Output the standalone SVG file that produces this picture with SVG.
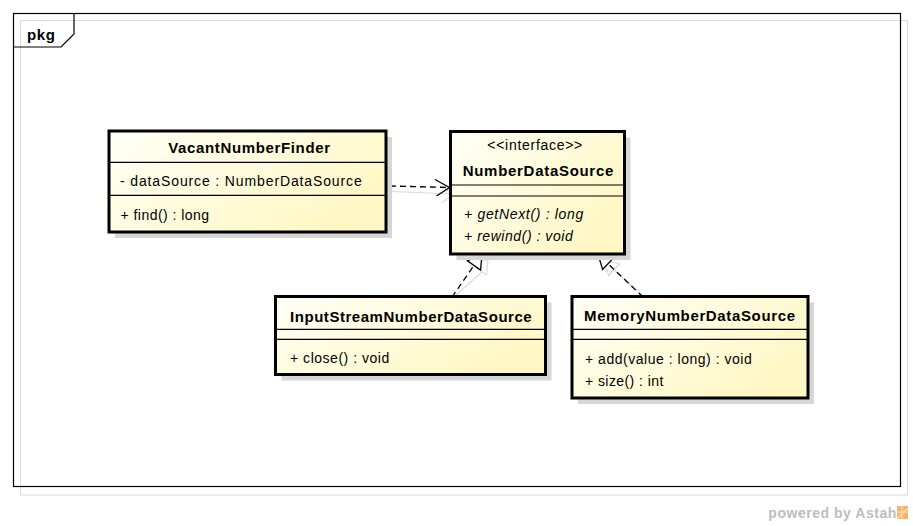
<svg xmlns="http://www.w3.org/2000/svg" width="913" height="526" viewBox="0 0 913 526">
<defs>
<linearGradient id="fillGrad" x1="0" y1="0" x2="1" y2="0.6">
<stop offset="0" stop-color="#fffff7"/>
<stop offset="1" stop-color="#fff7c4"/>
</linearGradient>
<style>
text{font-family:"Liberation Sans",Arial,sans-serif;font-size:14px;fill:#000}
.b{font-weight:bold;font-size:15px}
.i{font-style:italic}
.box{fill:url(#fillGrad);stroke:#000;stroke-width:3}
.shadow{fill:#d6d6d6}
.sep{stroke:#000;stroke-width:1.2}
.dash{fill:none;stroke:#000;stroke-width:1.3;stroke-dasharray:6,4}
.head{fill:#fff;stroke:#000;stroke-width:1.3}
.open{fill:none;stroke:#000;stroke-width:1.3}
.sh{fill:none;stroke:#dadada;stroke-width:1.2}
</style>
</defs>
<rect x="0" y="0" width="913" height="526" fill="#fff"/>
<g id="frame">
<rect x="20.5" y="20.5" width="887" height="474.5" fill="none" stroke="#d8d8d8" stroke-width="1"/>
<rect x="13.5" y="13.5" width="887" height="473" fill="none" stroke="#000" stroke-width="1.2"/>
<path d="M13.5,47 H61 L74,34 V13.5" fill="none" stroke="#000" stroke-width="1.2"/>
<text class="b" x="27" y="39.5" textLength="28" lengthAdjust="spacing">pkg</text>
</g>
<g id="connectors">
<path class="sh" d="M390,191.5 L454,194"/>
<polyline class="sh" points="440,186 454,194 442,202.5"/>
<path class="sh" d="M454,297 L482,272"/>
<polygon class="sh" points="488,259 486.6,275 473.4,266"/>
<path class="sh" d="M646,298 L614,270"/>
<polygon class="sh" points="604,260 619.6,264 608.6,275.5"/>
<path class="dash" d="M390,186 L449,187.5"/>
<polyline class="open" points="435,179.5 449.5,187.5 436.5,196"/>
<path class="dash" d="M452,297 L474,265.5"/>
<polygon class="head" points="482,254 480.6,270.1 467.4,260.9"/>
<path class="dash" d="M643,297 L608,263.7"/>
<polygon class="head" points="598,254 613.6,257.9 602.6,269.5"/>
</g>
<g id="VacantNumberFinder">
<rect class="shadow" x="115" y="137" width="277" height="101"/>
<rect class="box" x="109" y="131" width="277" height="101"/>
<line class="sep" x1="109" y1="162.3" x2="386" y2="162.3"/>
<line class="sep" x1="109" y1="195.3" x2="386" y2="195.3"/>
<text class="b" x="168.3" y="153.3" textLength="161.7" lengthAdjust="spacing">VacantNumberFinder</text>
<text x="120" y="185.5" textLength="241.7" lengthAdjust="spacing">- dataSource : NumberDataSource</text>
<text x="120.5" y="219.5" textLength="88.6" lengthAdjust="spacing">+ find() : long</text>
</g>
<g id="NumberDataSource">
<rect class="shadow" x="456.5" y="137.5" width="174" height="122.5"/>
<rect class="box" x="450.5" y="131.5" width="174" height="122.5"/>
<line class="sep" x1="450.5" y1="185" x2="624.5" y2="185"/>
<line class="sep" x1="450.5" y1="196" x2="624.5" y2="196"/>
<text x="487.3" y="150" textLength="95" lengthAdjust="spacing">&lt;&lt;interface&gt;&gt;</text>
<text class="b" x="462.7" y="175.7" textLength="150.6" lengthAdjust="spacing">NumberDataSource</text>
<text class="i" x="464" y="219" textLength="119.3" lengthAdjust="spacing">+ getNext() : long</text>
<text class="i" x="464" y="241" textLength="108.7" lengthAdjust="spacing">+ rewind() : void</text>
</g>
<g id="InputStreamNumberDataSource">
<rect class="shadow" x="281.5" y="302.5" width="270" height="78"/>
<rect class="box" x="275.5" y="296.5" width="270" height="78"/>
<line class="sep" x1="275.5" y1="329.3" x2="545.5" y2="329.3"/>
<line class="sep" x1="275.5" y1="339.3" x2="545.5" y2="339.3"/>
<text class="b" x="290" y="321.5" textLength="241.7" lengthAdjust="spacing">InputStreamNumberDataSource</text>
<text x="290" y="363.3" textLength="99.3" lengthAdjust="spacing">+ close() : void</text>
</g>
<g id="MemoryNumberDataSource">
<rect class="shadow" x="578" y="302.5" width="236" height="101.5"/>
<rect class="box" x="572" y="296.5" width="236" height="101.5"/>
<line class="sep" x1="572" y1="329.3" x2="808" y2="329.3"/>
<line class="sep" x1="572" y1="339.3" x2="808" y2="339.3"/>
<text class="b" x="584" y="320.5" textLength="211" lengthAdjust="spacing">MemoryNumberDataSource</text>
<text x="585" y="364" textLength="166.7" lengthAdjust="spacing">+ add(value : long) : void</text>
<text x="585" y="385.5" textLength="78.3" lengthAdjust="spacing">+ size() : int</text>
</g>
<g id="watermark">
<text x="768.3" y="518" style="fill:#bdbdbd;font-weight:bold;font-size:14px" textLength="128" lengthAdjust="spacing">powered by Astah</text>
<rect x="897" y="506" width="11" height="13" fill="#f6b26b"/>
<path d="M897,512 H908 M902,506 V519 M897,519 L908,508" stroke="#fbe0c0" stroke-width="1.2" fill="none"/>
</g>
</svg>
